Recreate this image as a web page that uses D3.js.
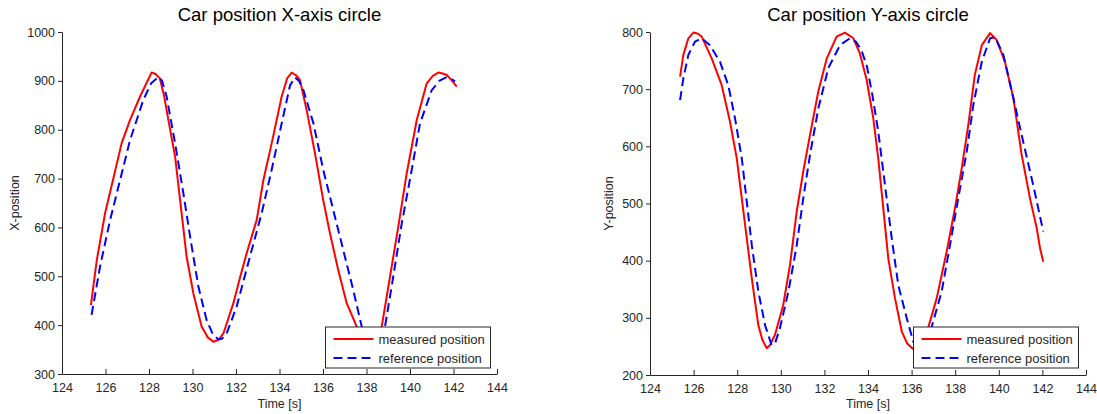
<!DOCTYPE html>
<html>
<head>
<meta charset="utf-8">
<script src="https://cdn.jsdelivr.net/npm/d3@7"></script>
<style>
  html, body { margin: 0; padding: 0; background: #fff; }
  svg { display: block; font-family: Arial, "Liberation Sans", sans-serif; }
</style>
</head>
<body>
<svg id="chart" width="1097" height="414"></svg>
<script>
// Time axis ticks shared by both panels
const timeTicks = [124, 126, 128, 130, 132, 134, 136, 138, 140, 142, 144];
const xPosTicks = [300, 400, 500, 600, 700, 800, 900, 1000];
const yPosTicks = [200, 300, 400, 500, 600, 700, 800];

// X-axis circle: measured position [time, value]
const xMeasured = [
  [125.33, 441], [125.6, 533], [125.98, 629], [126.36, 700], [126.74, 772],
  [127.13, 820], [127.59, 868], [127.9, 897], [128.12, 917], [128.3, 914],
  [128.5, 905], [128.7, 868], [128.89, 820], [129.2, 745], [129.43, 656],
  [129.73, 540], [130.04, 465], [130.42, 397], [130.7, 375], [130.96, 366],
  [131.2, 370], [131.42, 383], [131.88, 445], [132.2, 500], [132.49, 547],
  [132.95, 615], [133.26, 697], [133.64, 772], [134.1, 868], [134.35, 905],
  [134.56, 917], [134.75, 912], [134.94, 902], [135.25, 840], [135.63, 752],
  [136.01, 656], [136.32, 588], [136.7, 513], [137.09, 445], [137.55, 397],
  [137.85, 375], [138.1, 366], [138.4, 375], [138.7, 397], [139.08, 499],
  [139.46, 601], [139.85, 711], [140.31, 820], [140.77, 895], [141.05, 910],
  [141.3, 917], [141.5, 915], [141.69, 912], [141.9, 902], [142.15, 888]
];
// X-axis circle: reference position
const xReference = [
  [125.36, 421], [125.75, 520], [126.21, 615], [126.67, 697], [127.13, 779],
  [127.74, 861], [128.1, 895], [128.43, 908], [128.6, 900], [128.81, 868],
  [129.2, 772], [129.58, 670], [129.89, 581], [130.27, 479], [130.65, 410],
  [130.95, 380], [131.19, 371], [131.35, 372], [131.57, 383], [132.03, 438],
  [132.64, 540], [133.18, 629], [133.64, 718], [134.1, 813], [134.48, 890],
  [134.71, 907], [134.9, 900], [135.1, 881], [135.56, 813], [136.01, 718],
  [136.47, 636], [136.93, 554], [137.39, 472], [137.78, 397], [138.1, 378],
  [138.35, 372], [138.6, 380], [138.85, 397], [139.23, 499], [139.62, 608],
  [140.08, 718], [140.46, 813], [141.0, 881], [141.35, 900], [141.65, 907],
  [141.85, 905], [142.07, 899]
];

// Y-axis circle: measured position
const yMeasured = [
  [125.38, 722], [125.53, 760], [125.76, 789], [125.99, 799], [126.2, 797],
  [126.37, 792], [126.83, 754], [127.29, 707], [127.67, 643], [127.98, 579],
  [128.21, 509], [128.44, 439], [128.67, 369], [128.97, 287], [129.15, 262],
  [129.35, 247], [129.5, 252], [129.73, 270], [130.11, 322], [130.42, 392],
  [130.73, 486], [131.03, 556], [131.34, 620], [131.72, 696], [132.11, 754],
  [132.56, 792], [132.94, 799], [133.33, 789], [133.63, 762], [133.94, 716],
  [134.24, 650], [134.47, 579], [134.7, 492], [134.93, 404], [135.24, 334],
  [135.55, 276], [135.8, 255], [136.05, 246], [136.3, 255], [136.55, 268],
  [136.77, 284], [137.15, 334], [137.61, 416], [137.99, 492], [138.3, 562],
  [138.6, 637], [138.9, 725], [139.22, 777], [139.6, 798], [139.9, 786],
  [140.28, 748], [140.67, 684], [141.05, 585], [141.43, 509], [141.74, 457],
  [141.89, 422], [142.04, 398]
];
// Y-axis circle: reference position
const yReference = [
  [125.38, 681], [125.53, 719], [125.76, 760], [126.06, 783], [126.37, 789],
  [126.75, 777], [127.21, 748], [127.59, 707], [127.9, 649], [128.21, 579],
  [128.44, 503], [128.67, 427], [128.97, 346], [129.28, 287], [129.58, 252],
  [129.75, 257], [129.96, 282], [130.35, 346], [130.73, 427], [131.03, 509],
  [131.34, 585], [131.72, 666], [132.18, 737], [132.72, 777], [133.17, 789],
  [133.45, 783], [133.7, 768], [133.95, 740], [134.2, 690], [134.47, 626],
  [134.78, 532], [135.09, 439], [135.39, 357], [135.78, 299], [136.08, 258],
  [136.35, 250], [136.6, 260], [136.92, 284], [137.38, 346], [137.76, 427],
  [138.14, 509], [138.53, 591], [138.83, 672], [139.22, 748], [139.6, 789],
  [139.83, 791], [140.21, 760], [140.67, 684], [141.12, 608], [141.58, 532],
  [142.04, 451]
];

const seriesNames = ["measured position", "reference position"];

const svg = d3.select("#chart");
const textColor = "#262626";

function drawPanel(cfg) {
  const x = d3.scaleLinear().domain([124, 144]).range([cfg.left, cfg.right]);
  const y = d3.scaleLinear().domain(cfg.yDomain).range([cfg.bottom, cfg.top]);
  const g = svg.append("g");

  // bottom axis, ticks pointing into the plot
  const xAxis = d3.axisBottom(x).tickValues(timeTicks).tickFormat(d3.format("d"))
    .tickSizeInner(-5).tickSizeOuter(0).tickPadding(9);
  const gx = g.append("g").attr("transform", `translate(0,${cfg.bottom})`).call(xAxis);

  // left axis
  const yAxis = d3.axisLeft(y).tickValues(cfg.yTicks).tickFormat(d3.format("d"))
    .tickSizeInner(4).tickSizeOuter(0).tickPadding(3);
  const gy = g.append("g").attr("transform", `translate(${cfg.left},0)`).call(yAxis);

  [gx, gy].forEach(a => {
    a.select(".domain").attr("stroke", textColor).attr("stroke-width", 1);
    a.selectAll(".tick line").attr("stroke", textColor);
    a.selectAll(".tick text").attr("fill", textColor).style("font-size", "12.5px");
  });

  // curves
  const line = d3.line().x(d => x(d[0])).y(d => y(d[1]));
  const clipId = "clip" + cfg.id;
  g.append("clipPath").attr("id", clipId).append("rect")
    .attr("x", cfg.left).attr("y", cfg.top - 10)
    .attr("width", cfg.right - cfg.left).attr("height", cfg.bottom - cfg.top + 10);
  const plot = g.append("g").attr("clip-path", `url(#${clipId})`);
  plot.append("path").datum(cfg.measured)
    .attr("fill", "none").attr("stroke", "#ff0000").attr("stroke-width", 2)
    .attr("stroke-linejoin", "round").attr("d", line);
  plot.append("path").datum(cfg.reference)
    .attr("fill", "none").attr("stroke", "#0000ff").attr("stroke-width", 2)
    .attr("stroke-dasharray", "9,5").attr("d", line);

  // title
  g.append("text").attr("x", (cfg.left + cfg.right) / 2).attr("y", 20.5)
    .attr("text-anchor", "middle").attr("fill", "#000")
    .style("font-size", "18.5px").text(cfg.title);

  // axis labels
  g.append("text").attr("x", (cfg.left + cfg.right) / 2).attr("y", 408)
    .attr("text-anchor", "middle").attr("fill", textColor)
    .style("font-size", "12.5px").text("Time [s]");
  g.append("text")
    .attr("transform", `translate(${cfg.left - cfg.labelGap},${(cfg.top + cfg.bottom) / 2}) rotate(-90)`)
    .attr("text-anchor", "middle").attr("fill", textColor)
    .style("font-size", "12.5px").text(cfg.yLabel);

  // legend
  const lg = g.append("g").attr("transform", `translate(${cfg.legendX},327)`);
  lg.append("rect").attr("width", 165).attr("height", 41)
    .attr("fill", "#fff").attr("stroke", textColor).attr("stroke-width", 1);
  const styles = [
    { color: "#ff0000", dash: null },
    { color: "#0000ff", dash: "9,5" }
  ];
  seriesNames.forEach((name, i) => {
    const yy = 12 + i * 19;
    lg.append("line").attr("x1", 8).attr("x2", 48).attr("y1", yy).attr("y2", yy)
      .attr("stroke", styles[i].color).attr("stroke-width", 2)
      .attr("stroke-dasharray", styles[i].dash);
    lg.append("text").attr("x", 53).attr("y", yy + 4.5)
      .attr("fill", textColor).style("font-size", "13px").text(name);
  });
}

drawPanel({
  id: "x", left: 62, right: 497, top: 32, bottom: 374,
  yDomain: [300, 1000], yTicks: xPosTicks,
  measured: xMeasured, reference: xReference,
  title: "Car position X-axis circle", yLabel: "X-position",
  legendX: 325.5, labelGap: 43
});
drawPanel({
  id: "y", left: 650, right: 1086, top: 32, bottom: 375,
  yDomain: [200, 800], yTicks: yPosTicks,
  measured: yMeasured, reference: yReference,
  title: "Car position Y-axis circle", yLabel: "Y-position",
  legendX: 913.5, labelGap: 37
});
</script>
</body>
</html>
